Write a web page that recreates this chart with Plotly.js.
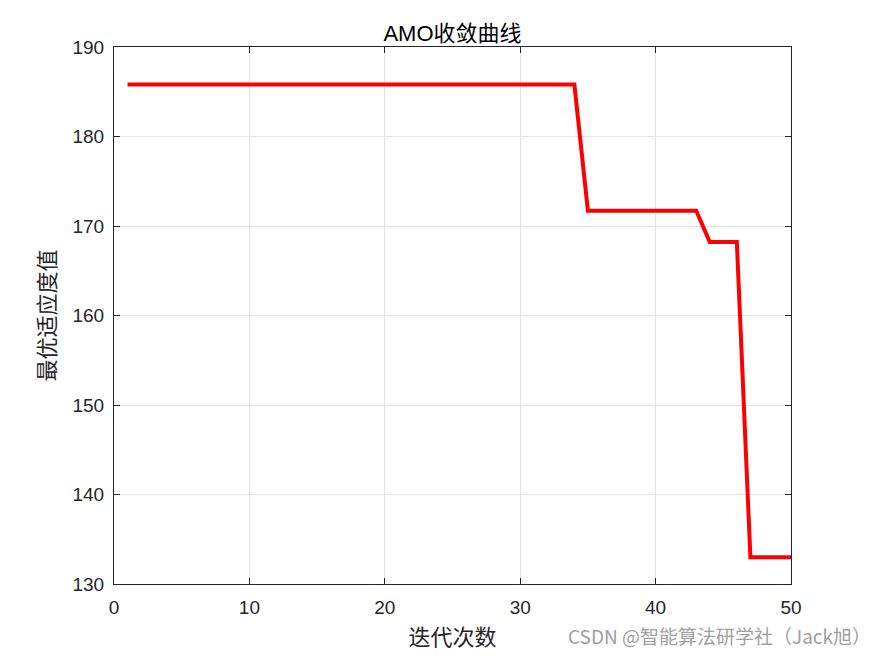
<!DOCTYPE html>
<html><head><meta charset="utf-8">
<script src="https://cdn.plot.ly/plotly-3.0.1.min.js"></script>
<style>body{margin:0;background:#fff}#c{width:875px;height:656px}</style>
</head><body><div id="c"></div>
<script>
const iterations = Array.from({length: 50}, (_, i) => i + 1);
const fitness = [
  185.8,185.8,185.8,185.8,185.8,185.8,185.8,185.8,185.8,185.8,
  185.8,185.8,185.8,185.8,185.8,185.8,185.8,185.8,185.8,185.8,
  185.8,185.8,185.8,185.8,185.8,185.8,185.8,185.8,185.8,185.8,
  185.8,185.8,185.8,185.8,171.7,171.7,171.7,171.7,171.7,171.7,
  171.7,171.7,171.7,168.2,168.2,168.2,133.0,133.0,133.0,133.0
];
const xTicks = [0,10,20,30,40,50];
const yTicks = [130,140,150,160,170,180,190];
const titleText = 'AMO收敛曲线';
const xLabel = '迭代次数';
const yLabel = '最优适应度值';
const watermark = 'CSDN @智能算法研学社（Jack旭）';

const axisCommon = {
  showline: true, mirror: 'ticks', linecolor: '#262626', linewidth: 1,
  ticks: 'inside', ticklen: 6, tickcolor: '#262626',
  showgrid: true, gridcolor: '#e3e3e3', gridwidth: 1, zeroline: false,
  tickfont: {family: 'Liberation Sans, Arial', size: 19, color: '#262626'}
};
Plotly.newPlot('c', [{
  x: iterations, y: fitness, type: 'scatter', mode: 'lines',
  line: {color: '#ff0000', width: 4}
}], {
  width: 875, height: 656,
  margin: {l: 114, r: 84, t: 47, b: 72},
  paper_bgcolor: '#fff', plot_bgcolor: '#fff',
  showlegend: false,
  title: {text: titleText, x: 0.5, xref: 'paper', xanchor: 'center', y: 1 - 33/656, yref: 'container', yanchor: 'middle',
    font: {family: 'Liberation Sans, Noto Sans CJK SC', size: 22, color: '#000'}},
  xaxis: Object.assign({}, axisCommon, {range: [0, 50], tickvals: xTicks, ticklabelstandoff: 6,
    title: {text: xLabel, standoff: 12, font: {family: 'Noto Sans CJK SC', size: 22, color: '#262626'}}}),
  yaxis: Object.assign({}, axisCommon, {range: [130, 190], tickvals: yTicks, ticklabelstandoff: 5,
    title: {text: yLabel, standoff: 10, font: {family: 'Noto Sans CJK SC', size: 22, color: '#262626'}}}),
  annotations: [{text: watermark, xref: 'paper', yref: 'paper', x: 1.121, y: -0.0968, xanchor: 'right', yanchor: 'middle',
    showarrow: false, font: {family: 'Noto Sans CJK SC', size: 19, color: '#a0a0a0'}}]
}, {staticPlot: true});
</script></body></html>
